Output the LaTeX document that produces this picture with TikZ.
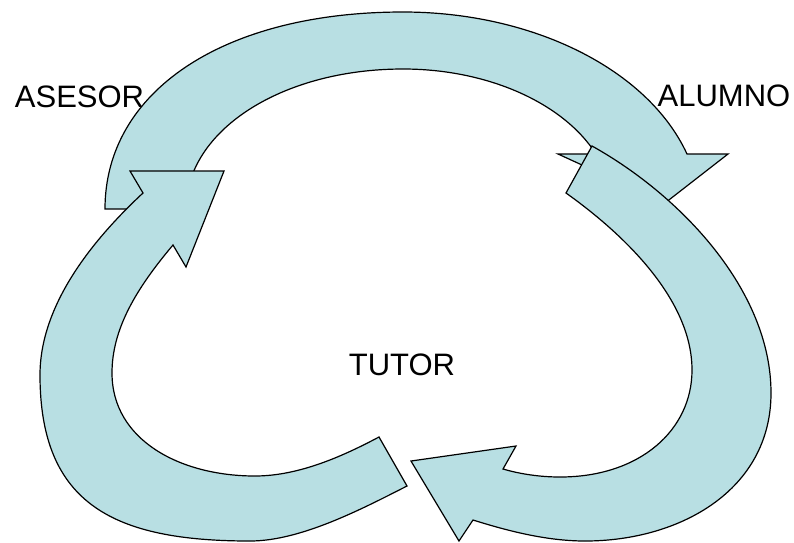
\documentclass[tikz,border=0pt]{standalone}
\usepackage{fontspec}
\setmainfont{Liberation Sans}
\definecolor{celeste}{RGB}{184,223,227}
\tikzset{
  flecha/.style={fill=celeste, draw=black, line width=1.2pt, line join=miter},
  etiqueta/.style={inner sep=0pt, anchor=base, font=\fontsize{31}{37}\selectfont}
}
\begin{document}
\begin{tikzpicture}[x=1pt, y=-1pt]
  \useasboundingbox (0,0) rectangle (794,542);
  \draw [flecha] (105,209) .. controls (105,91) and (224,12) .. (403,12)
    .. controls (533,12) and (648,69.5) .. (687,154)
    -- (728,154) -- (665,203) -- (558,154) -- (596,154)
    .. controls (563,102.5) and (487,69) .. (403,69)
    .. controls (281,69) and (186,131) .. (186,209) -- cycle;
  \draw [flecha] (379,437) -- (407,486)
    .. controls (360,510) and (300,541) .. (250,541)
    .. controls (115,541) and (40,505) .. (40,375)
    .. controls (40,310) and (85,247) .. (143,193)
    -- (130,171) -- (224,171) -- (186,267) -- (173,245)
    .. controls (135,290) and (112,330) .. (112,373)
    .. controls (112,440) and (180,476) .. (255,476)
    .. controls (300,476) and (345,455) .. (379,437) -- cycle;
  \draw [flecha] (566,193) -- (592,146)
    .. controls (680,195) and (771,290) .. (771,393)
    .. controls (771,490) and (680,541) .. (585,541)
    .. controls (545,541) and (505,530) .. (473,520)
    -- (459,541) -- (411,461) -- (516,446) -- (503,469)
    .. controls (520,474) and (540,477) .. (560,477)
    .. controls (640,477) and (692,430) .. (692,370)
    .. controls (692,300) and (625,235) .. (566,193) -- cycle;
  \node [etiqueta] (asesor) at (79.5,107.3) {ASESOR};
  \node [etiqueta] (alumno) at (724,106.7) {ALUMNO};
  \node [etiqueta] (tutor)  at (402,375)   {TUTOR};
\end{tikzpicture}
\end{document}
